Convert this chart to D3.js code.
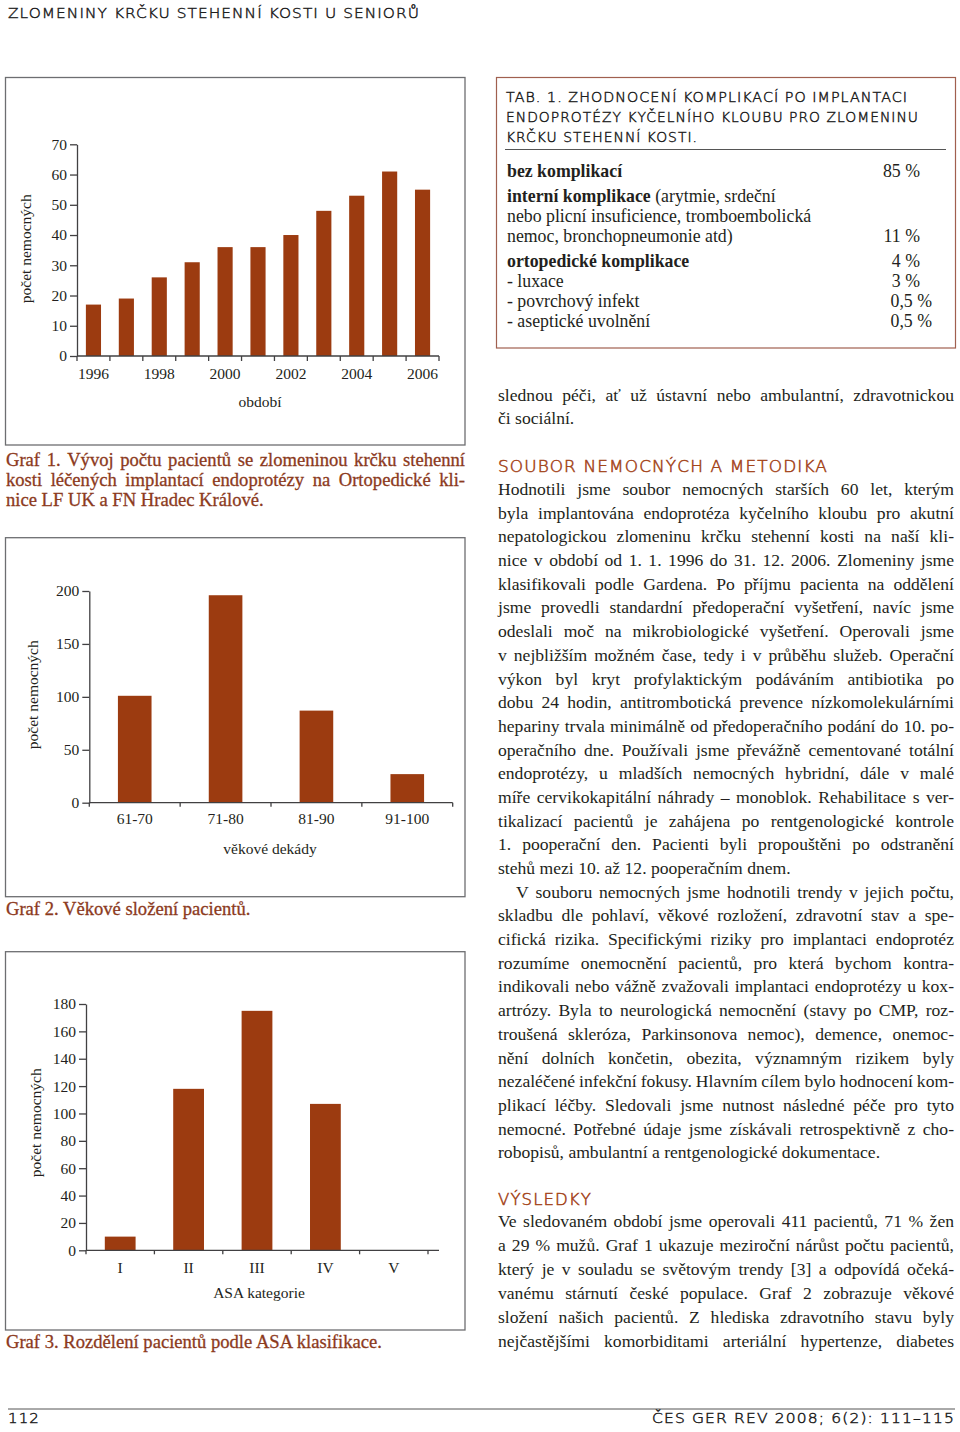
<!DOCTYPE html>
<html>
<head>
<meta charset="utf-8">
<script src="https://cdn.jsdelivr.net/npm/d3@7"></script>
<style>
  body { margin: 0; background: #fff; }
  svg { display: block; }
</style>
</head>
<body>
<svg id="page" width="960" height="1432"></svg>
<script>
// ---- chart data ----
const years = ['1996', '1997', '1998', '1999', '2000', '2001', '2002', '2003', '2004', '2005', '2006'];
const yearLabels = ['1996', '1998', '2000', '2002', '2004', '2006'];
const patientsPerYear = [17, 19, 26, 31, 36, 36, 40, 48, 53, 61, 55];
const yearTicks = [0, 10, 20, 30, 40, 50, 60, 70];

const ageDecades = ['61-70', '71-80', '81-90', '91-100'];
const patientsPerDecade = [101, 196, 87, 27];
const decadeTicks = [0, 50, 100, 150, 200];

const asaCategories = ['I', 'II', 'III', 'IV', 'V'];
const patientsPerAsa = [10, 118, 175, 107, 0];
const asaTicks = [0, 20, 40, 60, 80, 100, 120, 140, 160, 180];

// ---- table ----
const tableLines = [
    { b: 'bez komplikací', t: '', v: '85 %' },
    { b: 'interní komplikace', t: ' (arytmie, srdeční', v: '', gap: true },
    { b: '', t: 'nebo plicní insuficience, tromboembolická', v: '' },
    { b: '', t: 'nemoc, bronchopneumonie atd)', v: '11 %' },
    { b: 'ortopedické komplikace', t: '', v: '4 %', gap: true },
    { b: '', t: '- luxace', v: '3 %' },
    { b: '', t: '- povrchový infekt', v: '0,5 %' },
    { b: '', t: '- aseptické uvolnění', v: '0,5 %' }
];

// ---- body text ----
const introLines = [
    'slednou péči, ať už ústavní nebo ambulantní, zdravotnickou',
    'či sociální.'
];
const methodParas = [
    ['Hodnotili jsme soubor nemocných starších 60 let, kterým',
     'byla implantována endoprotéza kyčelního kloubu pro akutní',
     'nepatologickou zlomeninu krčku stehenní kosti na naší kli-',
     'nice v období od 1. 1. 1996 do 31. 12. 2006. Zlomeniny jsme',
     'klasifikovali podle Gardena. Po příjmu pacienta na oddělení',
     'jsme provedli standardní předoperační vyšetření, navíc jsme',
     'odeslali moč na mikrobiologické vyšetření. Operovali jsme',
     'v nejbližším možném čase, tedy i v průběhu služeb. Operační',
     'výkon byl kryt profylaktickým podáváním antibiotika po',
     'dobu 24 hodin, antitrombotická prevence nízkomolekulárními',
     'hepariny trvala minimálně od předoperačního podání do 10. po-',
     'operačního dne. Používali jsme převážně cementované totální',
     'endoprotézy, u mladších nemocných hybridní, dále v malé',
     'míře cervikokapitální náhrady – monoblok. Rehabilitace s ver-',
     'tikalizací pacientů je zahájena po rentgenologické kontrole',
     '1. pooperační den. Pacienti byli propouštěni po odstranění',
     'stehů mezi 10. až 12. pooperačním dnem.'],
    ['V souboru nemocných jsme hodnotili trendy v jejich počtu,',
     'skladbu dle pohlaví, věkové rozložení, zdravotní stav a spe-',
     'cifická rizika. Specifickými riziky pro implantaci endoprotéz',
     'rozumíme onemocnění pacientů, pro která bychom kontra-',
     'indikovali nebo vážně zvažovali implantaci endoprotézy u kox-',
     'artrózy. Byla to neurologická nemocnění (stavy po CMP, roz-',
     'troušená skleróza, Parkinsonova nemoc), demence, onemoc-',
     'nění dolních končetin, obezita, významným rizikem byly',
     'nezaléčené infekční fokusy. Hlavním cílem bylo hodnocení kom-',
     'plikací léčby. Sledovali jsme nutnost následné péče pro tyto',
     'nemocné. Potřebné údaje jsme získávali retrospektivně z cho-',
     'robopisů, ambulantní a rentgenologické dokumentace.']
];
const resultLines = [
    'Ve sledovaném období jsme operovali 411 pacientů, 71 % žen',
    'a 29 % mužů. Graf 1 ukazuje meziroční nárůst počtu pacientů,',
    'který je v souladu se světovým trendy [3] a odpovídá očeká-',
    'vanému stárnutí české populace. Graf 2 zobrazuje věkové',
    'složení našich pacientů. Z hlediska zdravotního stavu byly',
    'nejčastějšími komorbiditami arteriální hypertenze, diabetes'
];

const SERIF = '"Liberation Serif", "Times New Roman", serif';
const SANS = '"DejaVu Sans", sans-serif';
const BAR = '#9c3b10';
const INK = '#231f20';
const CAPTION = '#8c3a1d';
const HEAD = '#a4461c';
const BODY_SIZE = 17.6;

const svg = d3.select('#page');

// draws one line of text; justify = width to spread words over, spread = stretched caps width
function textLine(g, str, x, y, o) {
    o = o || {};
    let t = g.append('text')
        .attr('x', x).attr('y', y)
        .attr('font-family', o.font || SERIF)
        .attr('font-size', o.size || BODY_SIZE)
        .attr('fill', o.fill || INK);
    if (o.weight) t.attr('font-weight', o.weight);
    if (o.anchor) t.attr('text-anchor', o.anchor);
    if (o.stroke) t.attr('stroke', o.fill || INK).attr('stroke-width', o.stroke);
    if (o.spread) {
        t.text(str)
            .style('letter-spacing', '1px')
            .attr('textLength', o.spread)
            .attr('lengthAdjust', 'spacingAndGlyphs');
        return t;
    }
    if (!o.justify) {
        t.text(str);
        return t;
    }
    let words = str.split(' ');
    let spans = words.map(w => t.append('tspan').text(w));
    let widths = spans.map(s => s.node().getComputedTextLength());
    let gap = (o.justify - d3.sum(widths)) / Math.max(1, words.length - 1);
    if (gap < 2) {
        spans.forEach(s => s.remove());
        t.text(str).attr('textLength', o.justify).attr('lengthAdjust', 'spacingAndGlyphs');
        return t;
    }
    let cx = x;
    spans.forEach((s, i) => {
        s.attr('x', cx);
        cx += widths[i] + gap;
    });
    return t;
}

function barChart(c) {
    let g = svg.append('g');

    g.append('rect')
        .attr('x', c.box[0]).attr('y', c.box[1])
        .attr('width', c.box[2]).attr('height', c.box[3])
        .attr('fill', 'none')
        .attr('stroke', '#6d6e71')
        .attr('stroke-width', 1.3);

    let x = d3.scaleBand().domain(c.cats).range(c.xr)
        .paddingInner(c.pad).paddingOuter(c.pad / 2);
    let y = d3.scaleLinear().domain(c.yd).range(c.yr);

    g.selectAll('rect.bar')
        .data(c.vals)
        .join('rect')
        .attr('class', 'bar')
        .attr('x', (d, i) => x(c.cats[i]))
        .attr('width', x.bandwidth())
        .attr('y', d => y(d))
        .attr('height', d => y(0) - y(d))
        .attr('fill', BAR);

    // y axis
    let ya = g.append('g')
        .attr('transform', 'translate(' + c.xr[0] + ',0)')
        .call(d3.axisLeft(y).tickValues(c.yt).tickSize(7).tickSizeOuter(0).tickPadding(3));

    // x axis labels only, the line and band ticks are drawn below
    let xa = g.append('g')
        .attr('transform', 'translate(0,' + y(0) + ')')
        .call(d3.axisBottom(x).tickValues(c.xt || c.cats).tickSize(0).tickPadding(c.xpad));
    xa.select('.domain').remove();

    g.append('line')
        .attr('x1', c.xr[0]).attr('x2', c.xEnd)
        .attr('y1', y(0)).attr('y2', y(0))
        .attr('stroke', '#414042').attr('stroke-width', 1.3);

    g.selectAll('line.bt')
        .data(d3.range(c.cats.length + 1))
        .join('line')
        .attr('class', 'bt')
        .attr('x1', i => c.xr[0] + i * x.step())
        .attr('x2', i => c.xr[0] + i * x.step())
        .attr('y1', y(0)).attr('y2', y(0) + c.xtick)
        .attr('stroke', '#414042').attr('stroke-width', 1.3);

    [ya, xa].forEach(a => {
        a.selectAll('.domain, .tick line').attr('stroke', '#414042').attr('stroke-width', 1.3);
        a.selectAll('text')
            .attr('font-family', SERIF)
            .attr('font-size', 15.5)
            .attr('fill', INK);
    });

    textLine(g, 'počet nemocných', 0, 0, { size: 15.5, anchor: 'middle' })
        .attr('transform', 'translate(' + c.yTitle[0] + ',' + c.yTitle[1] + ') rotate(-90)');
    textLine(g, c.xTitle, c.xTitlePos[0], c.xTitlePos[1], { size: 15.5, anchor: 'middle' });
}

// ---- page header ----
const capsOpt = { font: SANS, fill: '#1e1e1e', weight: 200, stroke: 0.45 };
textLine(svg, 'ZLOMENINY KRČKU STEHENNÍ KOSTI U SENIORŮ', 8, 17.5,
    Object.assign({ size: 14.5, spread: 412 }, capsOpt));

// ---- Graf 1 ----
barChart({
    box: [5.5, 77.5, 459.5, 367.5],
    cats: years, vals: patientsPerYear, xt: yearLabels,
    xr: [77, 439], xEnd: 439, pad: 0.54,
    yd: [0, 70], yr: [356, 144.3], yt: yearTicks,
    xpad: 11.5, xtick: 5,
    yTitle: [31, 248.8], xTitle: 'období', xTitlePos: [260, 407.3]
});
const capOpt = { size: 18.6, fill: CAPTION, stroke: 0.3 };
textLine(svg, 'Graf 1. Vývoj počtu pacientů se zlomeninou krčku stehenní', 6, 466,
    Object.assign({ justify: 459 }, capOpt));
textLine(svg, 'kosti léčených implantací endoprotézy na Ortopedické kli-', 6, 486,
    Object.assign({ justify: 459 }, capOpt));
textLine(svg, 'nice LF UK a FN Hradec Králové.', 6, 506, capOpt);

// ---- Graf 2 ----
barChart({
    box: [5.5, 537.7, 459.5, 359],
    cats: ageDecades, vals: patientsPerDecade,
    xr: [89.3, 452.7], xEnd: 452.7, pad: 0.63,
    yd: [0, 200], yr: [802.7, 591], yt: decadeTicks,
    xpad: 10, xtick: 4,
    yTitle: [38, 694.7], xTitle: 'věkové dekády', xTitlePos: [270, 854]
});
textLine(svg, 'Graf 2. Věkové složení pacientů.', 6, 915, capOpt);

// ---- Graf 3 ----
barChart({
    box: [5.5, 951.7, 459.5, 378.3],
    cats: asaCategories, vals: patientsPerAsa,
    xr: [86, 428], xEnd: 439, pad: 0.55,
    yd: [0, 180], yr: [1250.3, 1004], yt: asaTicks,
    xpad: 12, xtick: 4,
    yTitle: [40.5, 1122.8], xTitle: 'ASA kategorie', xTitlePos: [259, 1298]
});
textLine(svg, 'Graf 3. Rozdělení pacientů podle ASA klasifikace.', 6, 1348, capOpt);

// ---- Tab. 1 ----
let tab = svg.append('g');
tab.append('rect')
    .attr('x', 496.5).attr('y', 77.5).attr('width', 459).attr('height', 270.5)
    .attr('fill', 'none').attr('stroke', '#a0604f').attr('stroke-width', 1.2);
textLine(tab, 'TAB. 1. ZHODNOCENÍ KOMPLIKACÍ PO IMPLANTACI', 506, 102,
    Object.assign({ size: 13.5, spread: 402 }, capsOpt));
textLine(tab, 'ENDOPROTÉZY KYČELNÍHO KLOUBU PRO ZLOMENINU', 506, 122,
    Object.assign({ size: 13.5, spread: 413 }, capsOpt));
textLine(tab, 'KRČKU STEHENNÍ KOSTI.', 506, 142,
    Object.assign({ size: 13.5, spread: 192 }, capsOpt));
tab.append('line')
    .attr('x1', 505).attr('x2', 946).attr('y1', 149.5).attr('y2', 149.5)
    .attr('stroke', '#555').attr('stroke-width', 1);

let rowY = 176.5;
tableLines.forEach((r, i) => {
    if (i > 0) rowY += r.gap ? 25 : 20;
    let t = tab.append('text')
        .attr('x', 507).attr('y', rowY)
        .attr('font-family', SERIF).attr('font-size', 17.8).attr('fill', INK);
    if (r.b) t.append('tspan').attr('font-weight', 'bold').text(r.b);
    if (r.t) t.append('tspan').text(r.t);
    if (r.v) {
        textLine(tab, r.v, r.v.includes(',') ? 932 : 920, rowY, { size: 17.8, anchor: 'end' });
    }
});

// ---- right column text ----
const COL_X = 498, COL_W = 456, STEP = 23.69;
let body = svg.append('g');

introLines.forEach((l, i) => {
    textLine(body, l, COL_X, 400.7 + i * STEP, i < introLines.length - 1 ? { justify: COL_W } : {});
});

const headOpt = { font: SANS, size: 15, fill: HEAD, weight: 200, stroke: 0.5 };
textLine(body, 'SOUBOR NEMOCNÝCH A METODIKA', COL_X, 471.7,
    Object.assign({ spread: 330 }, headOpt));

let ly = 495;
methodParas.forEach((para, p) => {
    para.forEach((l, i) => {
        let indent = (p > 0 && i === 0) ? 18 : 0;
        let last = i === para.length - 1;
        textLine(body, l, COL_X + indent, ly, last ? {} : { justify: COL_W - indent });
        ly += STEP;
    });
});

textLine(body, 'VÝSLEDKY', COL_X, 1205, Object.assign({ spread: 94 }, headOpt));
resultLines.forEach((l, i) => {
    textLine(body, l, COL_X, 1227.3 + i * 23.9, { justify: COL_W });
});

// ---- footer ----
svg.append('line')
    .attr('x1', 8).attr('x2', 955).attr('y1', 1409).attr('y2', 1409)
    .attr('stroke', '#555').attr('stroke-width', 1);
textLine(svg, '112', 8, 1423, Object.assign({ size: 13.5, spread: 32 }, capsOpt));
textLine(svg, 'ČES GER REV 2008; 6(2): 111–115', 652, 1423,
    Object.assign({ size: 13.5, spread: 303 }, capsOpt));
</script>
</body>
</html>
